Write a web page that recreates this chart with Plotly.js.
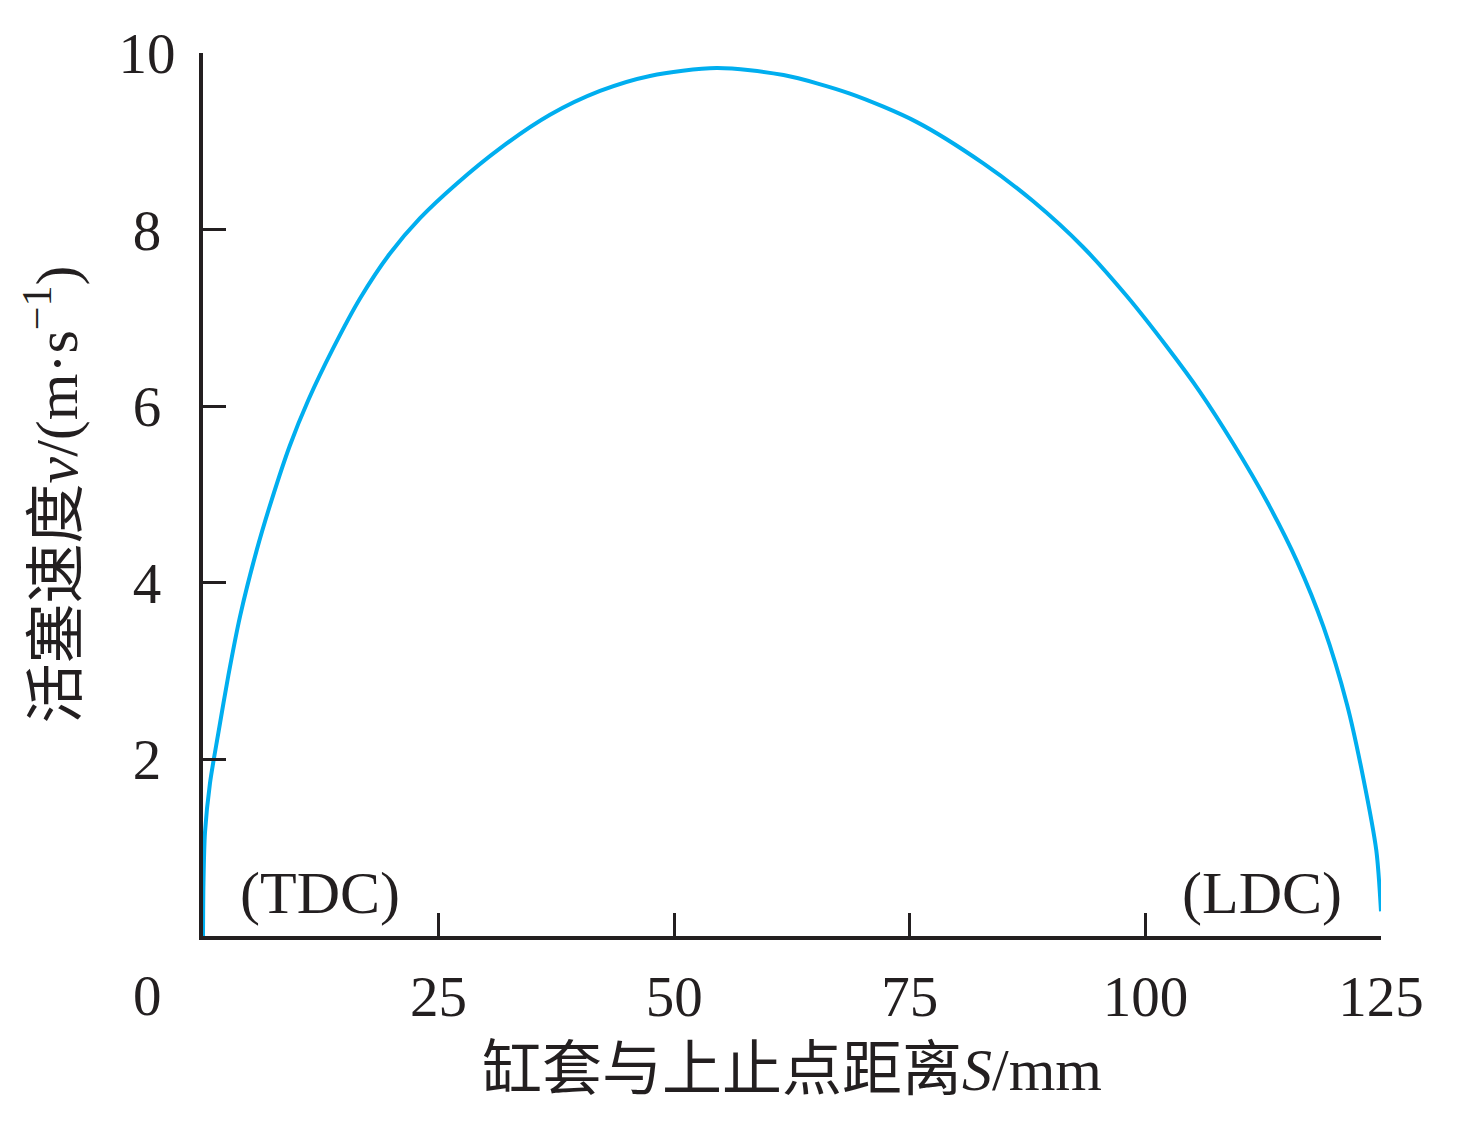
<!DOCTYPE html>
<html>
<head>
<meta charset="utf-8">
<script src="https://cdn.plot.ly/plotly-3.0.1.min.js"></script>
<style>
  html, body { margin: 0; padding: 0; background: #fff; }
  #chart { width: 1463px; height: 1131px; }
</style>
</head>
<body>
<div id="chart"></div>
<script>
// piston speed vs. distance of liner from TDC
var distance = [0, 0.05, 0.21, 0.74, 1.63, 2.69, 3.93, 5.70, 7.29, 9.2, 11.18, 13.83, 16.66, 19.84,
  23.03, 26.92, 31.52, 36.82, 42.13, 47.43, 54.5, 61.6, 68.65, 75.7, 82.8, 88.1, 93.4,
  98.0, 102.3, 105.8, 109.3, 112.9, 116.1, 118.9, 121.4, 123.1, 124.5, 125.0];
var speed = [0, 0.6, 1.17, 1.73, 2.30, 2.95, 3.62, 4.37, 4.94, 5.55, 6.07, 6.66, 7.22, 7.73,
  8.13, 8.52, 8.92, 9.30, 9.57, 9.74, 9.83, 9.75, 9.54, 9.22, 8.75, 8.32, 7.80,
  7.25, 6.67, 6.16, 5.58, 4.92, 4.24, 3.50, 2.62, 1.80, 0.97, 0.28];

var xTicks = [25, 50, 75, 100, 125];
var yTicks = [2, 4, 6, 8, 10];

var fontFam = '"Liberation Serif", "Noto Sans CJK SC", serif';
var ink = '#231f20';
var lineColor = '#00aeef';

// y labels are centred in the reference, so pad the one-digit ones
var yText = yTicks.map(function (v) { return v < 10 ? v + '\u2005' : String(v); });

var data = [{
  x: distance,
  y: speed,
  type: 'scatter',
  mode: 'lines',
  line: { color: lineColor, width: 4, shape: 'spline', smoothing: 0.8 },
  hoverinfo: 'x+y'
}];

var layout = {
  width: 1463,
  height: 1131,
  margin: { l: 203, r: 82, t: 53, b: 195 },
  paper_bgcolor: '#fff',
  plot_bgcolor: '#fff',
  showlegend: false,
  font: { family: fontFam, color: ink, size: 57 },
  xaxis: {
    range: [0, 125],
    tickvals: xTicks,
    ticktext: xTicks.map(String),
    ticks: 'inside',
    ticklen: 23,
    tickwidth: 3,
    tickcolor: ink,
    ticklabelstandoff: 8,
    showline: true,
    linecolor: ink,
    linewidth: 4,
    showgrid: false,
    zeroline: false,
    tickfont: { family: fontFam, size: 57, color: ink },
    title: {
      text: '缸套与上止点距离<i>S</i>/mm',
      font: { family: fontFam, size: 60, color: ink },
      standoff: 22
    },
    automargin: false,
    fixedrange: true
  },
  yaxis: {
    range: [0, 10],
    tickvals: yTicks,
    ticktext: yText,
    ticks: 'inside',
    ticklen: 23,
    tickwidth: 3,
    tickcolor: ink,
    ticklabelstandoff: 12,
    showline: true,
    linecolor: ink,
    linewidth: 4,
    showgrid: false,
    zeroline: false,
    tickfont: { family: fontFam, size: 57, color: ink },
    title: {
      text: '活塞速度<i>v</i>/(m·s<sup>−1</sup>)',
      font: { family: fontFam, size: 60, color: ink },
      standoff: 23
    },
    automargin: false,
    fixedrange: true
  },
  annotations: [
    { text: '0', xref: 'paper', yref: 'paper', x: -0.047, y: 0, yshift: -59,
      showarrow: false, xanchor: 'center', yanchor: 'middle',
      font: { family: fontFam, size: 57, color: ink } },
    { text: '(TDC)', xref: 'x', yref: 'y', x: 12.4, y: 0.49,
      showarrow: false, xanchor: 'center', yanchor: 'middle',
      font: { family: fontFam, size: 60, color: ink } },
    { text: '(LDC)', xref: 'x', yref: 'y', x: 112.4, y: 0.49,
      showarrow: false, xanchor: 'center', yanchor: 'middle',
      font: { family: fontFam, size: 60, color: ink } }
  ]
};

var config = { displayModeBar: false, staticPlot: true };

Plotly.newPlot('chart', data, layout, config);
</script>
</body>
</html>
